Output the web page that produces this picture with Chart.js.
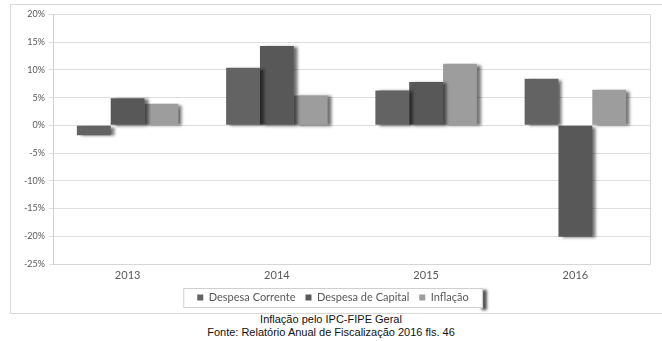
<!DOCTYPE html>
<html>
<head>
<meta charset="utf-8">
<script src="https://cdn.jsdelivr.net/npm/chart.js@4.4.1/dist/chart.umd.min.js"></script>
<style>
  html, body { margin: 0; padding: 0; background: #fff; }
  body { width: 662px; height: 341px; position: relative; overflow: hidden; }
  #frame { position: absolute; left: 10px; top: 4px; width: 655px; height: 310px; border: 1px solid #d9d9d9; box-sizing: border-box; }
  #frame canvas { display: block; }
  .cap { position: absolute; left: 0; width: 662px; text-align: center; font-family: "Liberation Sans", Arial, sans-serif; font-size: 11px; color: #111; }
</style>
</head>
<body>
<div id="frame"><canvas id="c" width="653" height="308"></canvas></div>
<div class="cap" style="top:313px">Inflação pelo IPC-FIPE Geral</div>
<div class="cap" style="top:326px">Fonte: Relatório Anual de Fiscalização 2016 fls. 46</div>
<script>
// Annual variation (%) by expense category vs. inflation
const years = ['2013', '2014', '2015', '2016'];
const despesaCorrente = [-1.8, 10.4, 6.3, 8.4];
const despesaCapital = [4.9, 14.3, 7.8, -20.1];
const inflacao = [3.9, 5.4, 11.1, 6.4];
const yTicks = [20, 15, 10, 5, 0, -5, -10, -15, -20, -25];

const seriesNames = ['Despesa Corrente', 'Despesa de Capital', 'Inflação'];
const seriesColors = ['#636363', '#585858', '#9d9d9d'];

// Soft drop shadow on the right of each bar
const barShadow = {
  id: 'barShadow',
  beforeDatasetsDraw(chart) {
    const ctx = chart.ctx;
    ctx.save();
    ctx.shadowColor = 'rgba(0,0,0,0.55)';
    ctx.shadowBlur = 3;
    ctx.shadowOffsetX = 4;
    ctx.shadowOffsetY = 1;
  },
  afterDatasetsDraw(chart) {
    chart.ctx.restore();
  }
};

// Right edge of the plot area
const plotEdge = {
  id: 'plotEdge',
  beforeDatasetsDraw(chart) {
    const { ctx, chartArea: a } = chart;
    ctx.save();
    ctx.strokeStyle = '#d6d6d6';
    ctx.lineWidth = 1;
    ctx.beginPath();
    ctx.moveTo(Math.round(a.right) + 0.5, a.top);
    ctx.lineTo(Math.round(a.right) + 0.5, a.bottom);
    ctx.stroke();
    ctx.restore();
  }
};

// Framed legend box with a shadow on its right edge
const legendFrame = {
  id: 'legendFrame',
  beforeDraw(chart) {
    const lg = chart.legend;
    const hit = lg && lg.legendHitBoxes;
    if (!hit || !hit.length) return;
    const ctx = chart.ctx;
    const first = hit[0], last = hit[hit.length - 1];
    const x0 = first.left - 14, x1 = last.left + last.width + 14;
    const y0 = first.top - 4, y1 = first.top + first.height + 5;
    ctx.save();
    ctx.fillStyle = '#444';
    ctx.filter = 'blur(1.5px)';
    ctx.fillRect(x1 - 1, y0 + 2, 5, y1 - y0);
    ctx.filter = 'none';
    ctx.fillStyle = '#fff';
    ctx.fillRect(x0, y0, x1 - x0, y1 - y0);
    ctx.strokeStyle = '#cfcfcf';
    ctx.lineWidth = 1;
    ctx.strokeRect(x0 + 0.5, y0 + 0.5, x1 - x0 - 1, y1 - y0 - 1);
    ctx.restore();
  }
};

new Chart(document.getElementById('c'), {
  type: 'bar',
  data: {
    labels: years,
    datasets: [despesaCorrente, despesaCapital, inflacao].map((d, i) => ({
      label: seriesNames[i],
      data: d,
      backgroundColor: seriesColors[i],
      borderWidth: 0,
      categoryPercentage: 0.68,
      barPercentage: 1.0
    }))
  },
  options: {
    responsive: false,
    animation: false,
    devicePixelRatio: 1,
    layout: { padding: { left: 5, right: 14, top: 9, bottom: 0 } },
    plugins: {
      tooltip: { enabled: false },
      legend: {
        position: 'bottom',
        labels: {
          boxWidth: 6,
          boxHeight: 6,
          padding: 10,
          color: '#595959',
          font: { family: 'Lato, "Open Sans", sans-serif', size: 11 }
        }
      }
    },
    scales: {
      x: {
        afterFit(s) { s.height = 18; },
        grid: { display: false, drawTicks: false },
        border: { color: '#d6d6d6' },
        ticks: { color: '#595959', padding: 5, font: { family: 'Lato, sans-serif', size: 11 } }
      },
      y: {
        min: -25,
        max: 20,
        afterFit(s) { s.width = 37; },
        afterBuildTicks(s) { s.ticks = yTicks.map(v => ({ value: v })); },
        grid: { color: '#dedede', drawTicks: true, tickLength: 4 },
        border: { color: '#d0d0d0' },
        ticks: {
          color: '#595959',
          padding: 4,
          font: { family: 'Lato, sans-serif', size: 9 },
          callback: v => v + '%'
        }
      }
    }
  },
  plugins: [legendFrame, plotEdge, barShadow]
});
</script>
</body>
</html>
